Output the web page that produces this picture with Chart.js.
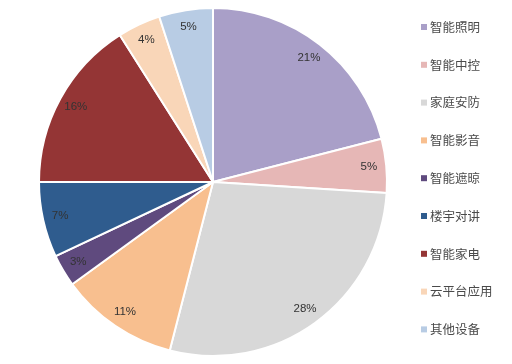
<!DOCTYPE html>
<html><head><meta charset="utf-8">
<script src="https://cdn.jsdelivr.net/npm/chart.js@4.4.0/dist/chart.umd.min.js"></script>
<style>html,body{margin:0;padding:0;background:#fff;}#wrap{width:512px;height:364px;position:relative;}</style>
</head><body><div id="wrap"><canvas id="c" width="512" height="364"></canvas></div>
<script>
const categories = ['智能照明','智能中控','家庭安防','智能影音','智能遮晾','楼宇对讲','智能家电','云平台应用','其他设备'];
const shares = [21, 5, 28, 11, 3, 7, 16, 4, 5];
const sliceColors = ['#A99FC8','#E6B7B6','#D8D8D8','#F8BF8F','#5F4A7E','#2F5C8E','#943535','#F9D6B8','#B8CCE4'];

const labelPlugin = {
  id: 'sliceLabels',
  afterDatasetsDraw(chart) {
    const ctx = chart.ctx;
    const meta = chart.getDatasetMeta(0);
    ctx.save();
    ctx.font = '11.5px "Liberation Sans", Arial, sans-serif';
    ctx.fillStyle = '#333333';
    ctx.textAlign = 'center';
    ctx.textBaseline = 'middle';
    meta.data.forEach((arc, i) => {
      const mid = (arc.startAngle + arc.endAngle) / 2;
      const r = arc.outerRadius * 0.9;
      ctx.fillText(shares[i] + '%', arc.x + Math.cos(mid) * r, arc.y + Math.sin(mid) * r);
    });
    ctx.restore();
  }
};

const legendPlugin = {
  id: 'sideLegend',
  afterDraw(chart) {
    const ctx = chart.ctx;
    ctx.save();
    ctx.font = '12.5px "Noto Sans CJK SC", sans-serif';
    ctx.textBaseline = 'middle';
    ctx.textAlign = 'left';
    categories.forEach((name, i) => {
      const y = 27 + i * 37.8;
      ctx.fillStyle = sliceColors[i];
      ctx.fillRect(421, y - 3, 6, 6);
      ctx.fillStyle = '#4a4a4a';
      ctx.fillText(name, 430, y);
    });
    ctx.restore();
  }
};

new Chart(document.getElementById('c'), {
  type: 'pie',
  data: {
    labels: categories,
    datasets: [{
      data: shares,
      backgroundColor: sliceColors,
      borderColor: '#ffffff',
      borderWidth: 2
    }]
  },
  options: {
    responsive: false,
    animation: false,
    layout: { padding: { top: 7, bottom: 7, left: 38, right: 124 } },
    plugins: { legend: { display: false }, tooltip: { enabled: false } }
  },
  plugins: [labelPlugin, legendPlugin]
});
</script></body></html>
